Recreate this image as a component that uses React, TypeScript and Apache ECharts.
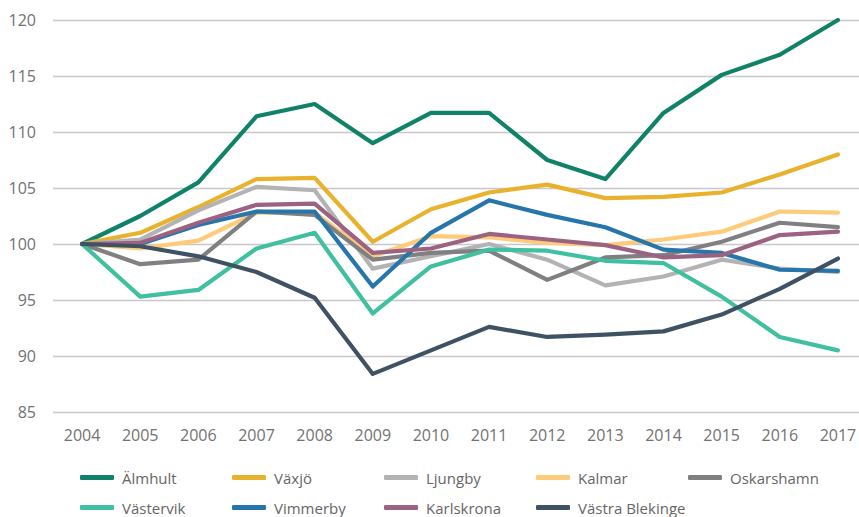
import React, { useEffect, useRef } from "react";
import * as echarts from "echarts";

const years = ["2004","2005","2006","2007","2008","2009","2010","2011","2012","2013","2014","2015","2016","2017"];

const almhult = [100, 102.5, 105.5, 111.4, 112.5, 109.0, 111.7, 111.7, 107.5, 105.8, 111.7, 115.1, 116.9, 120.0];
const vaxjo = [100, 101.0, 103.3, 105.8, 105.9, 100.2, 103.1, 104.6, 105.3, 104.1, 104.2, 104.6, 106.2, 108.0];
const ljungby = [100, 100.4, 103.0, 105.1, 104.8, 97.8, 98.9, 100.0, 98.6, 96.3, 97.1, 98.6, 97.8, 97.5];
const kalmar = [100, 99.6, 100.3, 102.8, 102.8, 98.9, 100.7, 100.6, 100.1, 99.9, 100.4, 101.1, 102.9, 102.8];
const oskarshamn = [100, 98.2, 98.6, 102.9, 102.6, 98.6, 99.2, 99.4, 96.8, 98.8, 99.0, 100.2, 101.9, 101.5];
const vastervik = [100, 95.3, 95.9, 99.6, 101.0, 93.8, 98.0, 99.5, 99.4, 98.5, 98.3, 95.3, 91.7, 90.5];
const vimmerby = [100, 100.0, 101.7, 102.9, 102.9, 96.2, 101.0, 103.9, 102.6, 101.5, 99.5, 99.2, 97.7, 97.6];
const karlskrona = [100, 100.1, 101.9, 103.5, 103.6, 99.2, 99.6, 100.9, 100.4, 99.9, 98.8, 99.0, 100.8, 101.1];
const vastraBlekinge = [100, 99.8, 98.9, 97.5, 95.2, 88.4, 90.5, 92.6, 91.7, 91.9, 92.2, 93.7, 96.0, 98.7];

const names = ["Älmhult","Växjö","Ljungby","Kalmar","Oskarshamn","Västervik","Vimmerby","Karlskrona","Västra Blekinge"];
const values = [almhult, vaxjo, ljungby, kalmar, oskarshamn, vastervik, vimmerby, karlskrona, vastraBlekinge];
const colors = ["#11826A","#E8B22C","#B3B3B6","#FDCB7A","#808083","#40C0A0","#2676AB","#9C6282","#3F5263"];

const legendLeft = [80, 232, 384, 536, 688, 80, 232, 384, 536];
const legendTop = [470, 470, 470, 470, 470, 500, 500, 500, 500];

export default function App() {
  const ref = useRef<HTMLDivElement>(null);
  useEffect(() => {
    if (!ref.current) return;
    const chart = echarts.init(ref.current, undefined, { renderer: "svg" });
    const font = "'Open Sans', sans-serif";
    chart.setOption({
      animation: false,
      backgroundColor: "#ffffff",
      grid: { left: 53, width: 814, top: 20, height: 392, containLabel: false },
      legend: names.map((n, i) => ({
        data: [n],
        left: legendLeft[i],
        top: legendTop[i],
        icon: "roundRect",
        itemWidth: 34,
        itemHeight: 5,
        padding: 0,
        textStyle: { fontFamily: font, fontSize: 15, color: "#666666", padding: [0, 0, 0, 3] },
      })),
      xAxis: {
        type: "category",
        data: years,
        boundaryGap: true,
        axisLine: { show: false },
        axisTick: { show: false },
        axisLabel: { fontFamily: font, fontSize: 16, color: "#727272", margin: 15 },
      },
      yAxis: {
        type: "value",
        min: 85,
        max: 120,
        interval: 5,
        axisLine: { show: false },
        axisTick: { show: false },
        axisLabel: { fontFamily: font, fontSize: 16, color: "#727272", margin: 17 },
        splitLine: { lineStyle: { color: "#c8c8cc", width: 1.3 } },
      },
      series: names.map((n, i) => ({
        name: n,
        type: "line",
        data: values[i],
        showSymbol: false,
        symbol: "none",
        color: colors[i],
        lineStyle: { width: 4.2, color: colors[i], cap: "round", join: "round" },
      })),
    });
    return () => chart.dispose();
  }, []);
  return (
    <div style={{ position: "absolute", left: 0, top: 0, width: 859, height: 517, overflow: "hidden", background: "#fff" }}>
      <div ref={ref} style={{ width: 870, height: 517 }} />
    </div>
  );
}
